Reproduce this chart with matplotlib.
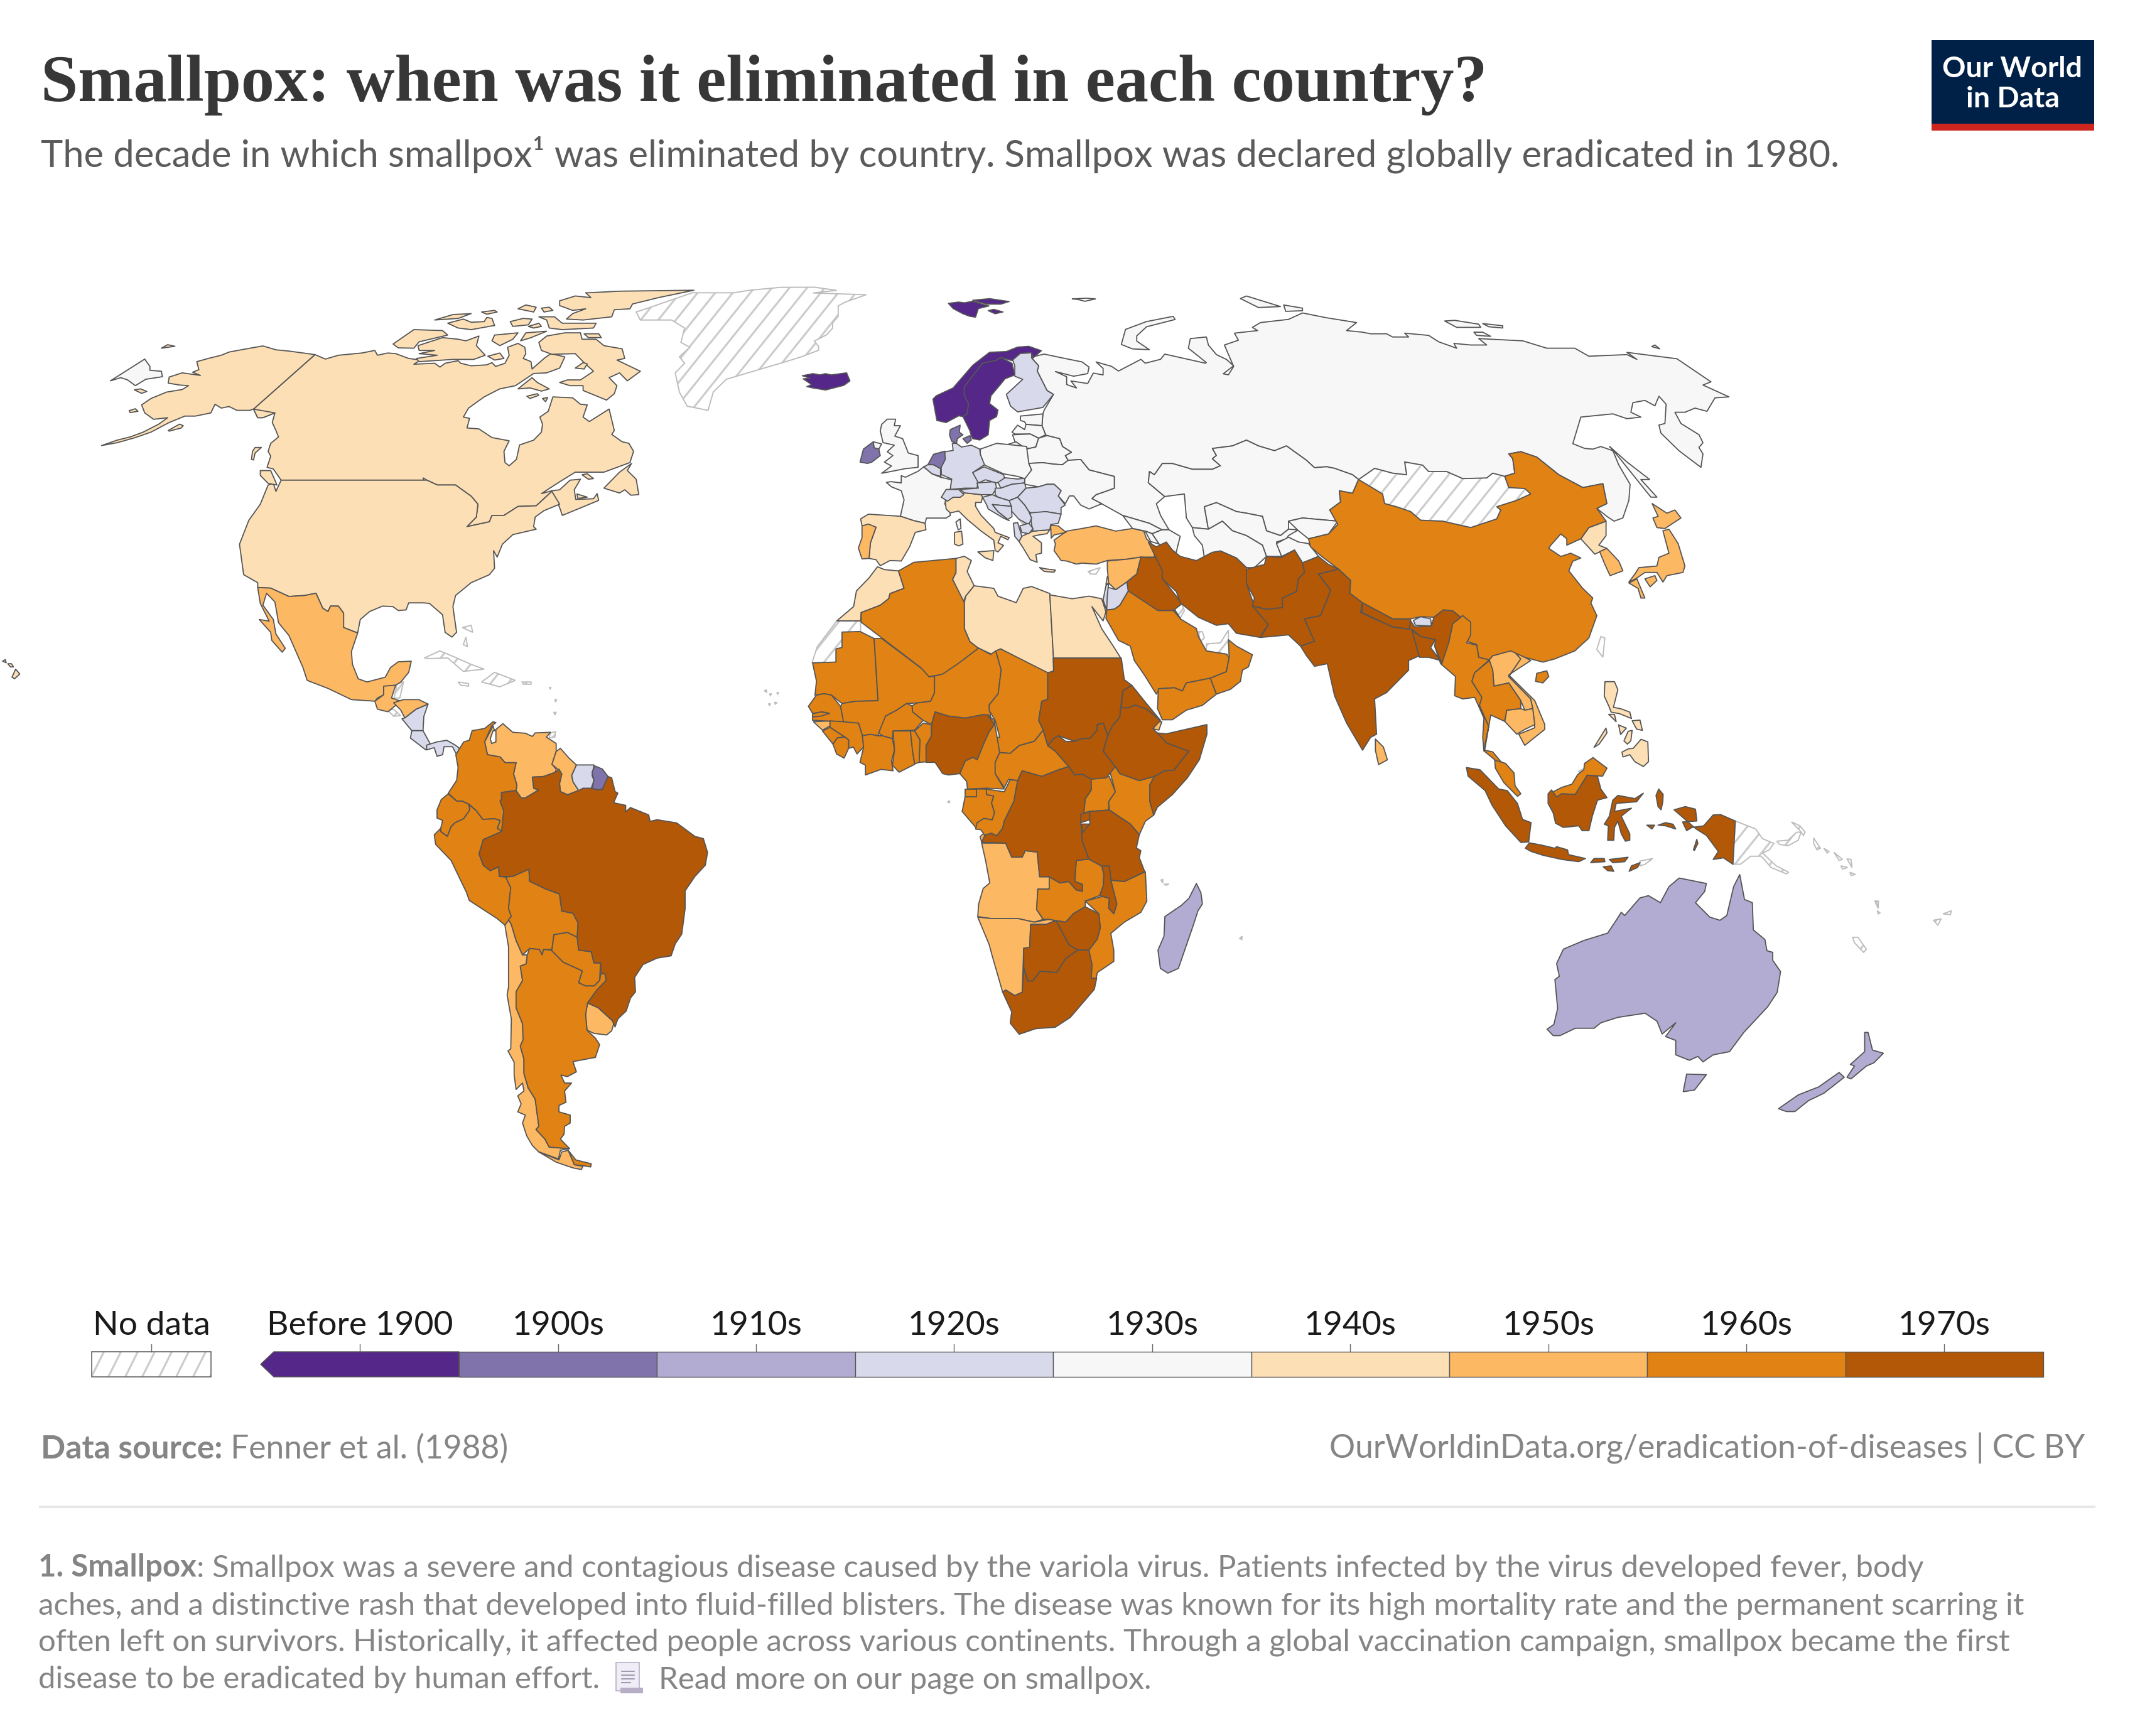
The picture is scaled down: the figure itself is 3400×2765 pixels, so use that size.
import numpy as np
import matplotlib
matplotlib.use('Agg')
import matplotlib.pyplot as plt
from matplotlib.patches import Polygon, Rectangle
from matplotlib.collections import LineCollection

# outlines are traced from crops, flat x,y lists in the crop's own units
# crop: left, top, x scale, y scale
CROPS = {
    'na': (0, 400, 1568 / 1300, 1568 / 800),
    'sa': (600, 1100, 1568 / 700, 1568 / 800),
    'eu': (1250, 450, 1568 / 700, 1568 / 650),
    'af': (1250, 1000, 1568 / 750, 1568 / 700),
    'as': (1800, 450, 1568 / 1000, 1568 / 800),
    'oc': (2300, 1050, 1568 / 850, 1568 / 800),
}

# --- North America
alaska = ('na', [605,323,555,312,530,308,505,296,480,303,440,315,425,325,400,335,378,345,382,370,370,378,385,388,350,380,325,393,323,412,345,418,362,420,350,432,320,440,290,460,272,480,278,505,295,525,322,520,305,540,275,565,250,580,225,590,195,607,225,598,260,582,290,565,325,535,355,515,375,515,405,505,413,478,425,490,440,485,455,497,480,497,487,493,495,520,505,520,528,505,487,493])
canada = ('na', [605,323,625,337,650,325,695,318,720,310,725,325,745,318,760,320,785,335,808,340,795,353,835,350,845,362,855,350,880,342,885,350,905,358,935,355,945,348,952,360,970,350,978,325,975,300,995,288,1008,300,1010,320,1005,335,1020,345,1022,368,1045,335,1058,320,1085,330,1075,365,1050,380,1025,382,990,420,960,430,930,455,900,490,890,518,902,522,897,552,920,555,945,582,978,592,968,625,970,660,978,670,992,650,998,605,1025,590,1040,565,1042,540,1037,518,1053,500,1062,455,1100,458,1115,478,1128,480,1120,518,1132,532,1170,493,1180,560,1175,572,1195,595,1208,600,1217,625,1210,660,1185,675,1160,690,1105,690,1075,720,1040,757,1060,748,1075,745,1095,715,1115,712,1103,745,1106,775,1140,773,1147,757,1150,778,1110,805,1080,825,1076,805,1072,790,1060,750,1030,795,995,797,968,825,945,825,940,845,897,860,915,830,918,790,905,765,875,730,840,730,820,715,813,708,813,715,540,715,525,680,513,675,520,640,515,625,520,600,535,580,530,560,523,535,528,505,505,520,495,520,487,493])
usa = ('na', [540,715,813,715,820,715,840,730,875,730,905,765,918,790,915,830,897,860,940,845,945,825,968,825,995,797,1030,795,1060,750,1075,790,1045,810,1028,830,1025,860,1030,868,985,885,965,915,955,955,948,935,950,990,940,1010,905,1035,875,1075,870,1110,877,1190,868,1205,855,1190,850,1135,825,1100,815,1098,785,1098,780,1120,765,1122,755,1110,735,1108,710,1125,692,1150,687,1192,660,1175,660,1130,650,1108,635,1108,630,1125,620,1115,607,1068,585,1075,555,1078,520,1052,495,1050,495,1035,468,1010,460,915,478,840,500,790,515,730,525,725,530,750])
mexico = ('na', [495,1050,520,1052,555,1078,585,1075,607,1068,620,1115,630,1125,635,1108,650,1108,660,1130,660,1175,687,1192,675,1250,677,1290,688,1335,705,1345,740,1330,750,1300,765,1282,790,1280,785,1315,770,1345,760,1355,737,1360,737,1385,725,1395,720,1405,675,1400,630,1365,590,1340,582,1300,555,1200,535,1160,528,1095,512,1068,505,1105,525,1150,530,1195,548,1240,542,1252,522,1215,520,1190,498,1150,517,1155,500,1100])
guatemala = ('na', [737,1358,760,1355,752,1395,770,1405,745,1438,725,1430,720,1405,737,1385])
canada_islands = [
    ('na', [1130,130,1190,125,1333,122,1265,145,1215,165,1210,180,1180,183,1175,205,1120,215,1088,212,1100,195,1125,180,1100,185,1075,170,1075,155,1105,140,1135,145,1125,130]),
    ('na', [1035,205,1065,205,1080,225,1145,225,1140,240,1080,245,1055,240,1050,215]),
    ('na', [1035,285,1050,265,1085,255,1115,255,1118,275,1145,275,1160,295,1195,305,1200,335,1185,340,1230,375,1205,405,1190,380,1170,395,1185,420,1180,445,1165,465,1120,435,1120,420,1095,420,1075,410,1090,402,1115,402,1140,375,1120,345,1105,320,1060,322,1040,310]),
    ('na', [803,295,850,270,880,275,895,280,920,265,915,295,932,325,910,338,870,338,805,345,800,335,840,325,805,320,835,310,805,310]),
    ('na', [755,290,795,245,850,248,860,262,805,283,795,303,765,302]),
    ('na', [995,430,1022,395,1032,410,1055,430,1040,437,1018,427]),
    ('na', [835,215,870,198,905,195,880,210]),
    ('na', [860,225,890,212,905,222,930,220,935,207,945,210,950,232,905,245,880,240]),
    ('na', [925,190,950,185,955,190,935,197]),
    ('na', [995,180,1010,168,1030,175,1025,190]),
    ('na', [1040,178,1055,175,1062,185,1045,190]),
    ('na', [980,220,1005,210,1022,212,1015,230,985,235]),
    ('na', [1015,235,1035,225,1040,235,1025,240]),
    ('na', [950,262,995,255,985,275,960,295,945,280]),
    ('na', [1000,280,1010,255,1050,250,1020,270]),
    ('na', [1122,258,1150,258,1155,270,1130,270]),
    ('na', [937,328,960,318,968,335,950,340]),
    ('na', [1105,365,1120,348,1128,352,1122,368]),
    ('na', [1012,453,1032,445,1035,450,1018,460]),
    ('na', [1042,460,1052,457,1048,470]),
    ('na', [1160,740,1190,690,1213,663,1205,685,1222,712,1227,760,1212,762,1200,745,1190,755]),
    ('na', [1118,698,1128,695,1140,710,1130,712]),
    ('na', [483,650,485,625,490,613,502,613,490,630,487,652]),
    ('na', [500,685,520,685,532,730,515,725,500,700]),
    ('na', [1108,758,1128,768,1110,772]),
]
us_islands = [
    ('na', [323,560,345,540,352,545,348,552,325,562]),
    ('na', [310,303,322,292,336,297]),
    ('na', [248,498,260,492,265,500,250,504]),
    ('na', [258,433,270,430,282,438,272,444]),
    ('na', [23,1330,30,1305,38,1320,28,1335]),
    ('na', [5,1280,10,1275,12,1285]),
    ('na', [15,1288,22,1288,26,1298,20,1298]),
]
chukotka = ('na', [212,405,278,337,288,360,288,372,310,375,312,392,280,400,260,420,245,402,232,395])

# --- Central and South America
honduras = ('sa', [60,38,95,28,150,28,183,42,140,58,100,85,85,60])
nicaragua = ('sa', [183,42,168,80,165,125,125,125,90,88,100,85,140,58])
costa_rica = ('sa', [125,125,165,125,190,165,175,185,120,148])
panama = ('sa', [178,170,215,160,250,155,280,170,295,180,285,200,270,175,240,175,235,200,215,205,205,178,178,185])
colombia = ('sa', [425,100,410,110,385,160,395,200,440,207,458,225,497,225,488,260,500,295,497,312,445,318,445,340,440,345,453,375,447,440,430,430,440,405,420,400,378,402,355,375,330,355,305,345,285,345,255,320,285,280,290,240,282,200,310,160,330,155,340,125,385,118,415,97])
venezuela = ('sa', [415,110,420,125,450,103,485,130,530,133,555,143,565,132,620,130,605,145,640,165,640,190,625,230,640,245,637,255,595,268,555,270,560,305,578,310,530,335,515,335,497,312,500,295,488,260,497,225,458,225,440,207,395,200,385,160])
maracaibo = ('sa', [415,125,425,125,425,160,410,165,405,150])
guyana = ('sa', [655,180,685,210,712,232,695,265,700,285,720,312,680,325,655,315,652,290,660,260,645,245,625,230,640,190])
suriname = ('sa', [712,232,775,232,768,265,775,280,765,305,735,305,722,315,700,285,695,265])
french_guiana = ('sa', [778,235,805,245,825,268,805,308,790,310,768,305,775,280,768,255])
brazil = ('sa', [445,318,497,312,515,335,530,335,578,310,560,305,555,270,595,268,637,255,650,245,660,260,652,290,655,315,680,325,720,312,735,305,765,305,790,310,805,308,825,268,838,272,850,315,860,320,845,350,888,358,888,378,905,365,970,388,975,408,1000,403,1070,413,1135,455,1165,462,1180,505,1172,545,1135,580,1100,625,1100,680,1088,760,1065,790,1050,828,1000,835,950,855,920,895,923,940,905,960,890,1000,860,1025,850,1050,840,1030,790,990,752,975,785,935,818,905,815,885,800,882,798,850,775,850,765,815,720,810,715,770,718,725,700,695,660,688,652,635,600,618,545,595,543,557,485,580,437,580,435,550,405,562,380,545,365,510,380,465,445,440,453,375,440,345,445,340])
peru = ('sa', [205,450,228,430,228,440,252,455,265,425,280,412,310,400,332,372,328,355,355,375,378,402,420,400,440,405,430,430,447,440,380,465,365,510,380,545,405,562,435,550,437,580,460,582,478,615,470,680,480,705,457,732,430,712,330,655,320,630,265,530,210,480])
ecuador = ('sa', [255,322,285,345,305,345,328,355,332,372,310,400,280,412,265,425,252,455,228,440,228,430,235,405,215,398,215,372,230,340])
bolivia = ('sa', [460,582,485,580,543,557,545,595,600,618,652,635,660,688,700,695,718,725,715,770,680,755,632,762,625,808,595,808,590,825,580,808,545,805,520,825,497,780,480,730,470,715,480,705,470,680,478,615])
paraguay = ('sa', [632,762,680,755,715,770,720,810,765,815,775,850,798,850,795,905,775,922,745,922,720,912,733,875,665,848,622,810,625,808])
chile = ('sa', [457,732,470,715,480,730,497,780,520,825,537,825,533,853,512,860,520,905,497,940,497,990,520,1040,522,1090,512,1110,525,1150,525,1195,540,1240,565,1275,572,1320,578,1360,568,1370,600,1400,615,1425,685,1430,655,1435,648,1462,578,1440,555,1420,535,1390,520,1350,530,1325,503,1315,515,1290,503,1265,525,1250,520,1225,497,1245,490,1200,490,1160,468,1125,478,1118,480,1025,465,950,470,925,470,800])
chile_fuego = ('sa', [578,1440,650,1465,660,1440,683,1435,705,1480,735,1485,730,1495,700,1490,640,1472])
argentina_fuego = ('sa', [683,1435,710,1465,765,1477,763,1487,735,1483,705,1480])
argentina = ('sa', [537,825,545,805,580,808,590,825,595,808,622,810,665,848,733,875,720,912,745,922,775,922,795,905,800,882,815,885,818,905,785,935,752,975,745,1010,750,1060,780,1085,795,1105,780,1145,700,1158,712,1190,680,1205,657,1200,670,1225,695,1225,670,1250,675,1285,650,1295,650,1315,690,1325,690,1350,670,1360,668,1385,655,1400,688,1430,615,1425,600,1400,568,1370,578,1360,572,1320,565,1275,540,1240,525,1195,525,1150,512,1110,522,1090,520,1040,497,990,497,940,520,905,512,860,533,853])
uruguay = ('sa', [752,975,790,990,840,1030,847,1035,838,1062,820,1075,775,1070,750,1060,745,1010])

# --- Europe
svalbard = [('eu', [583,80,620,75,640,78,670,72,710,85,728,90,690,100,680,133,660,130,635,120,600,100]),
            ('eu', [670,68,730,62,800,73,770,83,720,83]),
            ('eu', [725,108,745,103,778,113,750,120])]
iceland = ('eu', [62,358,100,350,125,355,145,350,165,355,220,347,232,378,210,395,145,413,100,405,78,400,95,392,65,370,90,368])
norway = ('eu', [528,448,540,435,600,405,670,318,730,268,790,265,830,248,870,245,915,262,885,290,880,270,840,272,810,300,770,288,752,300,705,310,680,345,640,400,640,435,655,465,650,505,635,515,620,512,575,538,542,530])
sweden = ('eu', [640,400,680,345,705,310,752,300,770,288,810,310,820,355,785,370,770,390,735,435,730,465,760,490,755,515,730,530,725,585,695,605,670,600,665,590,660,570,635,515,650,505,655,465,640,435])
denmark = [('eu', [590,565,625,548,622,575,635,585,615,600,612,618,595,610,587,585]),
           ('eu', [635,600,660,588,665,605,650,618])]
finland = ('eu', [810,290,840,272,880,270,880,290,905,320,900,340,935,415,958,430,920,480,830,497,805,475,790,430,848,372,820,360,820,320])
estonia = ('eu', [840,513,920,505,917,550,860,545,855,535,840,530])
latvia = ('eu', [810,575,830,548,855,565,860,545,917,550,930,585,905,598,875,582,820,582])
lithuania = ('eu', [812,585,875,582,905,598,895,632,870,638,845,628,820,610])
kaliningrad = ('eu', [795,622,825,612,845,628,800,628])
belarus = ('eu', [905,598,935,588,980,600,990,630,1022,652,1000,665,1010,683,990,700,960,698,920,692,870,695,860,640,895,632])
poland = ('eu', [697,640,755,618,820,625,862,630,870,695,880,720,860,755,830,745,780,735,730,710,710,700,697,660])
ukraine = ('eu', [870,695,920,692,960,698,990,700,1010,683,1055,680,1085,720,1175,745,1175,790,1150,800,1110,815,1095,830,1130,850,1085,870,1055,855,1030,820,1015,820,1000,850,975,820,985,800,960,775,935,775,905,785,855,775,855,755,880,720])
germany = ('eu', [597,618,612,618,630,632,665,625,695,640,697,660,712,700,670,730,690,765,685,790,640,790,590,795,595,755,558,738,557,690,572,650,600,645])
netherlands = ('eu', [510,700,530,660,570,648,572,680,555,715,530,700])
belgium = ('eu', [495,708,510,700,530,700,555,715,555,745,525,735])
france = ('eu', [362,768,378,765,415,770,415,742,430,748,475,725,495,708,525,735,555,748,595,758,590,795,580,825,570,850,588,880,590,895,575,905,505,905,500,925,460,915,412,898,425,835,415,800,380,785])
corsica = ('eu', [610,920,625,908,628,945,618,950])
switzerland = ('eu', [558,825,575,795,620,795,638,815,625,825,600,825,580,840])
austria = ('eu', [625,795,690,790,685,770,750,765,755,790,740,815,700,815,640,808])
czechia = ('eu', [670,730,710,708,780,738,785,760,755,770,715,758,690,770])
slovakia = ('eu', [760,768,785,750,830,755,855,752,855,770,810,775,770,790])
hungary = ('eu', [750,790,770,790,810,775,855,770,860,790,830,825,800,838,760,825,750,815])
romania = ('eu', [830,825,860,790,905,785,935,775,960,775,985,800,975,820,1000,855,985,865,985,890,930,880,885,890,870,880,855,855])
bulgaria = ('eu', [875,885,930,880,985,890,975,925,948,930,945,950,885,955,880,930])
serbia = ('eu', [800,838,830,825,855,855,870,880,880,905,870,930,835,910,810,880])
croatia = ('eu', [705,825,740,815,760,825,800,838,808,860,740,853,760,880,800,915,780,905,725,870,720,855])
bosnia = ('eu', [740,853,808,860,810,900,795,910,760,880])
albania = ('eu', [815,925,830,922,845,975,835,995,820,975])
macedonia = ('eu', [838,935,870,925,885,945,870,965,845,960])
greece = ('eu', [845,975,885,955,945,950,935,965,905,970,885,975,915,1000,915,1040,895,1045,900,1075,875,1065,850,1020,835,995])
crete = ('eu', [908,1095,930,1100,965,1105,960,1113,925,1110])
turkey_thrace = ('eu', [948,933,975,935,1003,960,960,970,950,982])
turkey = ('eu', [960,990,1005,955,1060,945,1110,935,1180,955,1240,945,1280,955,1290,985,1305,1000,1320,1055,1270,1055,1220,1063,1150,1068,1110,1082,1060,1078,1040,1082,1005,1070,985,1068,960,1030,965,1005])
italy = ('eu', [572,840,600,825,625,825,640,808,700,815,705,825,700,845,680,845,680,860,700,895,745,945,750,960,800,980,795,988,770,975,760,1000,780,1010,760,1035,750,1030,745,990,700,955,650,910,620,878,590,885,575,870])
sicily = ('eu', [688,1035,745,1030,742,1068,715,1058])
sardinia = ('eu', [605,960,630,955,635,1005,620,1012,605,1005])
spain = ('eu', [270,908,298,890,412,898,460,915,500,925,503,950,465,960,445,1015,415,1070,375,1068,340,1088,325,1065,300,1060,305,1000,325,940,298,938,275,935])
portugal = ('eu', [275,935,298,928,325,940,305,1000,300,1060,275,1062,262,1020,275,980])
britain = ('eu', [345,545,365,525,395,525,390,550,412,550,392,590,420,600,440,655,475,665,475,710,430,715,345,733,380,705,355,690,385,665,365,650,390,625,350,615,340,570])
n_ireland = ('eu', [315,612,345,620,335,640,318,635])
ireland = ('eu', [268,690,280,640,315,612,318,635,335,640,340,665,310,690,295,695])
georgia = ('eu', [1205,895,1300,925,1345,950,1310,965,1285,955,1240,945])
armenia = ('eu', [1285,955,1310,965,1335,1005,1305,995])
azerbaijan = ('eu', [1310,965,1345,950,1370,950,1410,975,1395,1040,1335,1005])

# --- North Africa and Middle East
morocco = ('eu', [330,1092,355,1103,405,1108,425,1175,375,1195,370,1215,340,1240,272,1268,270,1300,185,1300,245,1245,255,1185,300,1135])
western_sahara = ('eu', [185,1300,270,1300,270,1345,205,1345,205,1405,182,1410,182,1460,97,1460,115,1400,150,1350])
algeria = ('eu', [405,1108,460,1075,610,1060,610,1115,598,1140,640,1230,640,1330,660,1380,690,1405,620,1465,565,1505,510,1515,485,1480,345,1365,272,1305,272,1268,340,1240,370,1215,375,1195,425,1175])
tunisia = ('eu', [610,1060,640,1052,665,1068,650,1110,675,1165,645,1205,635,1230,598,1140,610,1115])
libya = ('eu', [675,1165,745,1175,760,1205,825,1230,850,1175,880,1168,945,1195,958,1440,958,1492,935,1502,770,1408,738,1428,690,1405,660,1380,640,1330,640,1230,645,1205])
egypt = ('eu', [945,1200,1025,1215,1085,1205,1130,1215,1145,1265,1135,1300,1095,1245,1130,1330,1170,1395,1198,1443,958,1443])
jordan = ('eu', [1150,1170,1180,1180,1220,1150,1225,1185,1195,1240,1175,1255,1148,1258,1135,1220])
israel = ('eu', [1135,1220,1145,1165,1155,1155,1150,1200,1148,1258])
syria = ('eu', [1150,1070,1220,1063,1270,1055,1255,1120,1220,1150,1180,1180,1155,1155,1150,1100])
lebanon = ('eu', [1150,1130,1165,1122,1155,1155,1145,1160])
cyprus = ('eu', [1082,1110,1125,1095,1110,1120,1090,1120])
iraq = ('eu', [1270,1055,1300,1058,1320,1055,1350,1100,1345,1135,1400,1210,1415,1235,1385,1260,1330,1260,1225,1185,1220,1150,1255,1120])
saudi = [('eu', [1148,1258,1175,1255,1195,1240,1225,1185,1250,1195,1330,1260,1385,1260,1410,1290]),
         ('as', [110,1020,125,1050,165,1080,170,1105,190,1150,240,1160,247,1170,240,1215,200,1235,140,1250,130,1275,110,1265,75,1268,65,1285,35,1225,10,1180,0,1135]),
         ('eu', [1190,1375,1145,1290])]
yemen = ('as', [70,1268,110,1265,130,1275,140,1250,200,1235,215,1285,180,1320,140,1335,105,1365,80,1365,68,1330])
oman = ('as', [200,1235,240,1215,247,1170,245,1115,265,1135,305,1162,295,1200,280,1210,275,1245,250,1270,215,1285])
uae = ('as', [190,1150,190,1128,225,1125,245,1085,245,1115,247,1160,240,1160])
qatar = ('as', [170,1090,180,1090,185,1110,175,1120])

# --- Sub-Saharan Africa
mauritania = ('af', [92,125,170,122,170,75,190,70,190,15,250,13,297,38,310,260,235,262,190,270,155,240,130,235,100,240,105,190])
mali = ('af', [297,38,322,38,455,145,480,175,498,172,498,232,485,262,440,268,405,270,370,295,335,315,330,345,310,385,285,380,258,385,245,340,195,340,185,280,190,270,235,262,310,260])
niger = ('af', [498,172,525,165,580,125,645,72,685,95,702,82,720,150,710,235,680,275,685,320,660,310,600,322,545,315,500,300,488,345,460,330,425,300,423,278,440,268,485,262,498,232])
chad = ('af', [702,82,718,75,875,160,875,255,855,262,845,330,860,365,830,405,780,420,750,448,715,445,688,395,715,390,700,330,680,295,680,275,710,235,720,150])
sudan = ('af', [875,160,895,155,893,108,1120,108,1130,185,1155,205,1125,225,1118,285,1115,320,1090,350,1075,385,1060,340,1040,345,1040,365,1015,395,990,395,965,405,910,385,895,395,875,420,860,365,845,330,855,262,875,255])
ethiopia = ('af', [1118,285,1145,285,1165,275,1205,290,1250,330,1225,360,1240,375,1270,410,1345,440,1295,508,1265,510,1230,530,1180,545,1115,520,1100,495,1060,440,1075,385,1090,350,1115,320])
eritrea = ('af', [1155,205,1200,265,1250,330,1205,290,1165,275,1145,285,1120,285,1125,225])
djibouti = ('af', [1230,335,1255,335,1245,365,1225,360])
somalia = ('af', [1240,375,1270,378,1405,345,1405,380,1380,470,1340,535,1290,595,1240,640,1228,668,1215,620,1215,560,1230,530,1265,510,1295,508,1345,440,1270,410])
south_sudan = ('af', [895,395,910,385,935,405,965,405,990,395,1015,395,1040,365,1040,345,1060,340,1075,385,1060,440,1100,495,1070,535,1020,540,990,522,965,525,945,495,900,440,875,420])
car = ('af', [860,365,875,420,900,440,945,495,915,505,855,530,790,510,775,545,745,540,730,570,700,520,700,480,715,445,750,448,780,420,830,405])
nigeria = ('af', [500,300,545,315,600,322,660,310,675,310,697,345,680,370,665,405,640,470,625,462,600,475,582,520,545,525,525,520,500,480,470,480,470,420,488,385,488,345])
cameroon = ('af', [675,310,697,330,715,445,700,480,700,520,730,575,670,572,608,575,605,548,582,520,600,475,625,462,640,470,665,405,680,370,697,345])
benin = ('af', [488,345,488,385,470,420,470,478,447,480,450,400,432,368,460,340])
togo = ('af', [432,368,450,400,447,480,432,485,425,440,418,368])
ghana = ('af', [360,368,418,368,425,440,432,487,380,515,358,490,365,435])
burkina = ('af', [312,375,335,315,370,295,405,270,423,278,425,300,460,330,432,365,360,368,358,395,325,385])
ivory_coast = ('af', [258,385,285,380,310,385,325,385,358,395,365,435,355,475,360,510,320,505,268,525,268,490,250,480,262,425])
guinea = ('af', [150,332,195,335,245,340,258,385,262,425,240,450,228,425,212,430,212,400,200,390,150,355])
sierra_leone = ('af', [125,368,150,355,200,390,175,392,160,415])
liberia = ('af', [160,415,175,392,200,390,212,400,212,430,197,465,172,450])
senegal = ('af', [78,280,105,240,130,235,155,240,185,280,195,335,92,330,92,315,148,305,125,300,92,305])
gambia = ('af', [92,307,120,300,148,305,120,315,92,318])
guinea_bissau = ('af', [95,335,150,332,150,350,125,365])
eq_guinea = ('af', [600,575,637,575,637,602,600,602])
gabon = ('af', [600,602,637,602,637,575,670,575,672,595,695,600,688,625,698,660,690,685,662,680,660,688,640,695,640,718,590,655])
congo = ('af', [670,575,730,585,750,542,775,545,762,620,730,690,725,715,705,742,688,733,665,740,652,720,635,718,640,695,662,680,690,685,698,660,688,625,695,600,672,595])
drc = ('af', [790,510,855,530,915,505,945,495,965,525,990,522,1020,540,1020,578,1000,610,995,660,985,690,990,760,1012,825,970,830,965,905,990,915,990,940,970,935,945,905,915,910,880,888,848,888,840,800,800,795,790,818,755,818,735,768,655,765,665,740,688,733,705,742,725,715,730,690,762,620,775,545])
cabinda = ('af', [650,745,662,733,668,745,655,765])
angola = ('af', [655,768,735,768,755,818,790,818,800,795,840,800,848,888,880,888,880,932,842,932,838,1005,860,1040,830,1050,775,1037,685,1037,642,1030,645,985,660,930,682,910,668,830])
namibia = ('af', [642,1032,685,1037,775,1037,830,1050,880,1040,900,1045,870,1058,818,1058,815,1140,795,1143,790,1300,765,1312,735,1292,725,1300,690,1170,680,1130])
zambia = ('af', [880,888,915,910,945,905,970,935,990,940,990,915,965,905,970,830,1012,825,1055,850,1062,880,1060,920,1048,955,1000,975,1000,995,960,1020,935,1050,905,1045,880,1040,860,1040,838,1005,842,932,880,932])
zimbabwe = ('af', [905,1045,935,1050,960,1020,1000,995,1045,1020,1050,1070,1040,1110,1012,1150,975,1150,945,1130,905,1050])
botswana = ('af', [818,1058,870,1058,900,1045,905,1050,945,1130,975,1150,935,1180,905,1230,850,1225,825,1260,808,1260,795,1210,795,1143,815,1140])
south_africa = ('af', [795,1215,808,1260,825,1260,850,1225,905,1230,935,1180,975,1150,1012,1150,1022,1200,1020,1250,1038,1250,1030,1290,990,1340,950,1390,900,1425,835,1430,780,1450,750,1410,755,1370,725,1300,735,1292,765,1312,790,1300])
lesotho = ('af', [923,1335,950,1305,967,1320,945,1350])
eswatini = ('af', [997,1255,1010,1235,1022,1250,1020,1270,1005,1270])
mozambique = ('af', [1000,975,1058,958,1080,965,1078,1000,1095,1020,1105,985,1085,900,1130,905,1200,870,1205,975,1185,1015,1130,1050,1085,1090,1095,1150,1095,1190,1040,1230,1035,1258,1020,1250,1022,1200,1012,1150,1040,1110,1050,1070,1045,1020])
malawi = ('af', [1055,850,1080,850,1085,900,1105,985,1095,1020,1078,1000,1080,965,1048,955,1060,920,1062,880])
tanzania = ('af', [1015,655,1080,650,1150,700,1180,738,1170,785,1185,795,1180,820,1198,870,1130,905,1085,900,1080,850,1055,850,1012,825,990,760,988,735,1015,700])
kenya = ('af', [1080,650,1078,620,1100,585,1080,505,1100,495,1115,520,1180,545,1230,530,1215,560,1215,620,1228,668,1200,690,1180,738,1150,700])
uganda = ('af', [1018,540,1080,530,1100,585,1078,620,1078,650,1015,655,995,660,1000,610,1020,578])
rwanda = ('af', [985,665,1015,655,1015,685,985,695])
burundi = ('af', [988,700,1015,700,990,735])
madagascar = ('af', [1370,912,1385,945,1390,985,1375,1010,1360,1060,1310,1215,1275,1232,1250,1215,1242,1150,1262,1100,1265,1030,1320,990,1345,965])

# --- Russia and Central Asia
russia = [('eu', [885,285,925,275,1000,292,1060,305,1085,325,1080,350,1030,360,965,342,1005,362,1005,392,1040,405,1020,378,1080,388,1100,348,1135,355,1135,330,1110,305,1165,322,1190,340,1270,295,1285,310,1340,295,1355,275,1500,310]),
          ('as', [190,250,145,205,150,175,190,170,195,195,215,225,240,240,258,260,232,285,245,288,258,262,235,195,270,180,260,158,318,150,305,140,325,125,395,115,430,95,450,100,490,110,565,125,540,150,580,155,600,160,640,160,655,170,695,170,685,158,745,165,770,185,815,205,808,190,850,195,890,195,870,175,980,182,1040,205,1110,205,1145,230,1240,225,1265,240,1240,218,1365,238,1450,310,1430,320,1495,357,1460,360,1440,402,1410,392,1385,405,1360,405,1375,440,1420,475,1430,500,1420,515,1430,535,1425,577,1370,525,1325,470,1320,445,1335,440,1338,380,1320,355,1310,385,1285,368,1255,375,1250,405,1275,420,1240,425,1205,410,1125,420,1105,503,1135,518,1155,520,1175,512,1205,525,1220,570,1248,630,1245,680,1230,735,1208,745,1190,730,1165,705,1190,690,1180,628,1130,640,1070,600,1015,545,975,528,945,535,955,550,960,595,935,605,905,595,890,610,830,612,790,590,745,590,730,570,685,560,690,600,655,595,610,580,570,615,555,600,510,580,490,575,460,578,440,555,390,510,360,525,320,510,290,492,255,510,205,518,215,540,205,550,225,572,205,583,155,583,105,565,80,565,60,600,48,590,45,625,86,668]),
          ('eu', [1325,850,1340,895,1370,950,1345,950,1300,925,1205,895,1135,853,1095,830,1110,815,1150,800,1175,790,1175,745,1085,720,1055,680,1010,683,1000,665,1022,652,990,630,980,600,935,588,930,585,917,550,920,505,925,490,958,430,935,415,900,340,905,320,880,290])]
novaya_zemlya = ('eu', [1200,238,1215,180,1290,150,1385,130,1392,142,1290,170,1255,205,1255,225,1300,258,1240,255])
russia_islands = [('as', [275,50,290,42,375,75,320,78]), ('as', [383,70,430,80,430,88,388,90]),
                  ('as', [785,120,810,118,870,130,875,140,815,140]), ('as', [880,128,930,135,930,142,895,138]),
                  ('as', [858,155,880,155,900,168,865,165]), ('as', [1302,200,1310,195,1322,207]),
                  ('as', [1197,512,1240,560,1297,615,1275,615,1315,670,1300,670,1210,530]),
                  ('eu', [1025,63,1075,60,1108,63,1070,72,1045,65])]
kazakhstan = ('as', [48,590,60,600,80,565,105,565,155,583,205,583,225,572,205,550,215,540,205,518,255,510,290,492,320,510,360,525,390,510,440,555,460,578,490,575,510,580,555,600,570,615,555,658,522,650,525,685,498,710,518,745,430,735,395,745,395,770,375,790,340,775,330,730,290,720,265,715,215,687,185,700,195,770,155,765,140,735,135,660,86,668,45,625])
uzbekistan = ('as', [185,700,215,687,265,715,290,720,330,730,340,775,375,790,395,770,420,772,395,790,390,800,365,810,378,855,340,855,330,820,290,790,255,775,230,745,195,770])
turkmenistan = ('as', [155,765,195,770,230,745,255,775,290,790,330,820,340,855,310,890,290,890,265,860,225,838,185,860,180,820,160,790])
kyrgyzstan = ('as', [395,745,430,735,518,745,495,785,445,800,420,775])
tajikistan = ('as', [365,815,395,795,420,810,445,815,470,855,430,875,410,835,378,855])

# --- South and East Asia
iran = ('as', [45,810,65,825,90,810,105,835,125,855,165,868,205,842,225,838,265,860,290,890,290,940,310,1010,345,1068,335,1085,325,1108,265,1095,245,1065,215,1070,170,1045,125,1000,115,965,80,925,80,900])
afghanistan = ('as', [290,895,335,880,340,855,378,858,410,835,430,875,435,905,420,925,415,965,380,985,380,1015,340,1020,305,1010,310,985,290,940])
pakistan = ('as', [430,875,470,855,495,880,520,895,470,910,500,960,490,995,475,1040,435,1050,460,1120,425,1135,395,1100,325,1108,345,1068,305,1010,340,1020,380,1015,380,985,415,965,420,925,435,905])
india = ('as', [470,910,520,895,550,930,548,970,580,1000,575,1030,655,1075,697,1082,697,1050,710,1075,752,1072,758,1045,782,1022,805,1025,825,1045,805,1065,795,1125,778,1190,760,1135,762,1115,725,1105,703,1082,722,1165,695,1180,695,1210,640,1280,610,1300,615,1410,600,1420,580,1460,540,1375,510,1290,492,1190,460,1198,440,1165,425,1135,460,1120,435,1050,475,1040,490,995,500,960])
bangladesh = ('as', [703,1085,725,1105,762,1115,750,1140,775,1180,745,1170,722,1170])
nepal = ('as', [580,1000,655,1050,700,1050,697,1082,655,1075,578,1030])
bhutan = ('as', [707,1055,725,1043,750,1050,752,1072,712,1070])
sri_lanka = ('as', [612,1425,632,1450,642,1490,620,1505,612,1460])
china = ('as', [945,535,975,528,1015,545,1070,600,1130,640,1180,628,1190,690,1165,705,1188,745,1145,765,1125,800,1090,820,1090,800,1075,785,1050,820,1045,830,1075,855,1100,845,1125,860,1105,870,1095,900,1130,955,1155,985,1150,1000,1165,1040,1145,1110,1110,1150,1080,1165,1060,1175,1030,1185,985,1170,950,1150,905,1165,895,1180,870,1170,865,1130,840,1120,850,1080,830,1040,825,1045,805,1025,782,1022,758,1045,725,1043,700,1050,655,1050,580,1000,548,970,550,930,520,895,478,855,450,825,445,800,495,785,518,755,498,710,525,685,522,650,555,658,570,615,630,660,635,690,665,700,700,715,725,742,780,745,850,765,915,738,925,710,915,700,965,680,1000,660,985,643,945,640,935,605,960,595,955,550])
hainan = ('as', [1015,1220,1040,1212,1045,1230,1030,1250,1012,1245])
mongolia = ('as', [570,615,610,580,655,595,690,600,685,560,730,570,745,590,790,590,830,612,890,610,905,595,935,605,945,640,985,643,1000,660,965,680,915,700,925,710,915,738,850,765,780,745,725,742,700,715,665,700,635,690,630,660])
north_korea = ('as', [1188,745,1188,790,1170,820,1190,830,1160,848,1125,800,1145,765])
south_korea = ('as', [1172,840,1190,830,1220,870,1230,900,1198,915,1185,880])
japan = [('as', [1330,775,1345,770,1368,815,1385,885,1380,905,1340,915,1330,935,1315,905,1285,905,1262,925,1245,935,1260,910,1270,890,1315,885,1320,858,1345,845]),
         ('as', [1303,690,1340,720,1360,710,1375,735,1335,768,1315,765,1305,735,1318,730]),
         ('as', [1245,938,1265,925,1285,985,1275,985,1268,955]),
         ('as', [1285,925,1310,915,1315,930,1298,950])]
taiwan = ('as', [1175,1105,1185,1110,1180,1170,1165,1145])
myanmar = ('as', [830,1040,850,1060,850,1100,840,1125,865,1132,870,1170,897,1178,860,1218,853,1245,878,1295,872,1320,895,1385,883,1462,880,1420,883,1360,860,1295,830,1300,810,1290,812,1230,775,1190,760,1135,795,1125,805,1065,825,1045])
thailand = ('as', [897,1180,905,1210,908,1260,945,1250,975,1305,975,1330,940,1335,935,1370,900,1350,885,1460,905,1465,925,1495,940,1510,920,1500,883,1462,895,1385,872,1320,878,1295,853,1245,860,1218])
laos = ('as', [895,1180,905,1165,955,1147,975,1175,945,1230,1000,1300,1005,1330,985,1335,975,1305,945,1250,908,1260,905,1210])
vietnam = ('as', [955,1147,985,1170,1000,1180,945,1225,1010,1305,1035,1380,1035,1395,985,1445,970,1410,1010,1390,1005,1330,1000,1300,945,1230,975,1175])
cambodia = ('as', [940,1335,975,1330,985,1335,1005,1330,1010,1380,985,1395,965,1410,935,1370])

# --- Maritime Southeast Asia and Oceania
malaya = ('oc', [148,315,180,325,205,355,208,395,225,420,215,428,175,385,150,340])
malaysia_borneo = ('oc', [318,415,345,400,375,390,392,360,410,345,412,325,437,307,478,340,465,365,420,362,385,422,345,420,330,432])
brunei = ('oc', [395,350,412,340,410,362])
indonesia = [
    ('oc', [65,338,105,345,160,405,185,410,215,450,230,500,255,510,248,570,225,572,180,520,140,455,120,410,70,365]),
    ('oc', [238,590,250,573,285,580,325,590,330,585,362,595,365,610,415,622,395,632,345,625,290,612,255,600]),
    ('oc', [430,635,440,622,470,622,472,632]),
    ('oc', [485,625,540,618,530,632,495,635]),
    ('oc', [543,662,550,645,575,635,568,650]),
    ('oc', [467,648,490,645,498,662,480,660]),
    ('oc', [305,420,315,408,330,430,345,420,385,422,420,362,450,365,460,405,478,432,450,440,435,490,425,535,405,535,395,520,350,525,327,512,320,480,305,450]),
    ('oc', [470,515,485,490,495,440,510,425,560,435,585,418,565,445,505,450,500,475,550,465,520,490,545,545,545,565,532,568,520,545,510,505,500,525,498,565,480,565,482,520]),
    ('oc', [622,425,630,405,643,422,642,445,637,470,628,460]),
    ('oc', [628,518,650,510,672,515,680,530,650,520]),
    ('oc', [595,518,618,518,610,530]),
    ('oc', [732,595,742,562,745,575,735,597]),
    ('oc', [675,470,708,460,738,468,742,505,700,508,712,535,728,525,762,520,790,486,812,485,855,505,848,640,820,620,790,625,805,600,770,550,740,530]),
]
timor_leste = ('oc', [575,630,613,622,590,640,575,645])
png = ('oc', [855,505,915,530,935,560,968,575,955,595,935,605,975,645,1012,665,1005,670,960,650,940,625,930,615,900,615,870,640,848,640])
pacific_no_data = [
    ('oc', [1020,508,1045,520,1060,540,1055,550,1045,535]),
    ('oc', [977,568,1010,565,1035,540,1048,540,1040,565,1010,582,985,578]),
    ('oc', [1085,558,1105,590,1095,595,1085,575]), ('oc', [1115,590,1130,600,1125,605]),
    ('oc', [1145,603,1170,625,1160,628]), ('oc', [1183,623,1195,625,1198,650]),
    ('oc', [1165,645,1185,650,1170,655]), ('oc', [1192,665,1208,672,1195,675]),
    ('oc', [1200,868,1215,868,1240,905,1232,915,1205,885]),
    ('oc', [1265,755,1275,755,1275,778]), ('oc', [1272,785,1280,792,1275,795]),
    ('oc', [1437,815,1460,810,1450,830]), ('oc', [1465,795,1490,785,1487,797]),
]
philippines = [
    ('oc', [472,70,500,70,510,95,497,150,520,155,545,165,550,185,515,170,490,165,485,150,470,115]),
    ('oc', [440,275,475,215,478,230,455,265]),
    ('oc', [522,290,540,280,555,278,578,250,598,258,600,320,585,335,560,320,545,298,525,305]),
    ('oc', [483,172,500,172,505,195]), ('oc', [512,205,535,215,518,235]),
    ('oc', [528,255,540,225,552,222,548,255,538,265]), ('oc', [552,192,575,190,582,222,565,218]),
]
australia = ('oc', [302,1155,322,1140,333,1090,325,1000,338,990,330,950,350,905,410,878,480,855,505,815,520,790,530,800,575,745,600,738,635,760,660,710,690,683,770,700,765,725,738,760,780,805,810,815,830,800,850,710,868,672,882,750,905,760,908,845,942,875,948,910,965,915,965,940,988,975,978,1040,950,1085,915,1125,880,1165,838,1225,790,1235,760,1257,745,1240,720,1252,680,1235,680,1190,650,1178,680,1135,640,1170,625,1130,590,1105,510,1118,460,1135,440,1152,385,1152,340,1175,320,1175])
tasmania = ('oc', [712,1295,770,1297,735,1345,702,1350])
new_zealand = [('oc', [982,1403,1040,1360,1100,1335,1160,1290,1175,1305,1115,1355,1070,1378,1030,1412,1005,1412]),
               ('oc', [1235,1165,1245,1165,1258,1220,1290,1230,1262,1260,1240,1270,1195,1310,1183,1305,1205,1270,1193,1265,1235,1225])]

# --- other places with no data
greenland = [('na', [1222,190,1250,175,1285,155,1330,130,1410,130,1440,122,1500,113]),
             ('eu', [105,18,185,30,100,40,290,47,215,75,190,90,190,130,170,155,170,175,150,200,105,225,120,245,120,260,60,285,0,305]),
             ('na', [1395,400,1370,440,1360,497,1320,484,1305,440,1297,380,1315,350,1305,330,1325,300,1308,285,1315,240,1290,215,1230,215])]
caribbean = [
    ('na', [815,1270,845,1248,870,1265,905,1290,930,1305,890,1312,860,1270,825,1272]),
    ('na', [925,1345,950,1315,990,1340,960,1360]),
    ('na', [880,1345,900,1350,900,1358,885,1355]),
    ('na', [1003,1345,1020,1345,1020,1352,1005,1352]),
    ('na', [888,1175,905,1168,908,1190]), ('na', [895,1205,898,1235,890,1228]),
    ('sa', [615,147,620,132,638,128,635,145]),
]
belize = ('na', [763,1350,775,1345,768,1395,757,1395])
el_salvador = ('sa', [40,62,60,58,85,78,60,80])
kosovo = ('eu', [835,910,860,915,850,930])
kuwait = ('eu', [1385,1260,1415,1235,1425,1260,1410,1290])
luxembourg = ('eu', [550,735,558,738,558,748,550,745])
small_islands = [('na', [1468,1372,1472,1370,1473,1378]), ('na', [1478,1382,1482,1382,1480,1387]), ('na', [1492,1378,1495,1378,1494,1384]),
                 ('na', [1476,1413,1480,1413,1478,1418]), ('na', [1488,1408,1492,1410,1489,1415]), ('na', [1066,1400,1069,1400,1067,1408]),
                 ('na', [1055,1362,1058,1362,1057,1368]), ('na', [1064,1440,1068,1440,1066,1448]), ('af', [542,622,547,616,549,624]),
                 ('af', [1514,1108,1522,1100,1521,1112]), ('af', [1252,900,1258,898,1258,910]), ('af', [1262,915,1278,914,1270,918]),
                 ('oc', [1268,755,1276,758,1272,770])]

# decade a country got rid of smallpox
before_1900 = [iceland, norway, sweden, *svalbard]
in_1900s = [*denmark, netherlands, ireland, french_guiana]
in_1910s = [australia, tasmania, *new_zealand, madagascar]
in_1920s = [finland, germany, belgium, switzerland, austria, czechia, slovakia, hungary, romania, bulgaria, serbia,
            croatia, bosnia, albania, macedonia, nicaragua, costa_rica, panama, suriname, jordan, israel, bhutan]
in_1930s = [russia, novaya_zemlya, *russia_islands, chukotka, estonia, latvia, lithuania, kaliningrad, belarus, poland,
            ukraine, france, corsica, britain, n_ireland, georgia, armenia, azerbaijan, kazakhstan, uzbekistan,
            turkmenistan, kyrgyzstan, tajikistan]
in_1940s = [canada, alaska, usa, *canada_islands, *us_islands, spain, italy, sicily, sardinia, greece, crete, morocco, tunisia,
            libya, egypt, north_korea, *philippines, lebanon]
in_1950s = [mexico, guatemala, honduras, venezuela, guyana, chile, chile_fuego, uruguay, portugal, turkey, turkey_thrace,
            syria, angola, namibia, cabinda, guinea_bissau, djibouti, sri_lanka, south_korea, *japan, laos, vietnam,
            cambodia]
in_1960s = [colombia, ecuador, peru, bolivia, paraguay, argentina, argentina_fuego, algeria, mauritania, mali, niger,
            chad, senegal, gambia, guinea, sierra_leone, liberia, ivory_coast, burkina, ghana, togo, benin, cameroon,
            car, gabon, eq_guinea, congo, uganda, kenya, zambia, mozambique, lesotho, eswatini, saudi, yemen, oman,
            china, hainan, myanmar, thailand, malaya, malaysia_borneo]
in_1970s = [brazil, nigeria, sudan, south_sudan, ethiopia, eritrea, somalia, drc, rwanda, burundi, tanzania, malawi,
            zimbabwe, botswana, south_africa, iraq, iran, afghanistan, pakistan, india, bangladesh, nepal, *indonesia]
no_data = [greenland, mongolia, png, western_sahara, uae, taiwan, timor_leste, cyprus, belize, el_salvador, kuwait,
           brunei, qatar, kosovo, luxembourg, *caribbean, *pacific_no_data, *small_islands]

decade_groups = [in_1930s, in_1940s, in_1920s, in_1910s, in_1900s, before_1900, in_1950s, in_1960s, in_1970s]
group_colors = ['#f7f7f7', '#fddfb6', '#d8daeb', '#b2abd2', '#8073ac', '#542788', '#fdb863', '#e08214', '#b35806']

legend_labels = ['Before 1900', '1900s', '1910s', '1920s', '1930s', '1940s', '1950s', '1960s', '1970s']
legend_colors = ['#542788', '#8073ac', '#b2abd2', '#d8daeb', '#f7f7f7', '#fddfb6', '#fdb863', '#e08214', '#b35806']

TITLE = 'Smallpox: when was it eliminated in each country?'
SUBTITLE = 'The decade in which smallpox\u00b9 was eliminated by country. Smallpox was declared globally eradicated in 1980.'
NOTE_LINES = [
    'Smallpox was a severe and contagious disease caused by the variola virus. Patients infected by the virus developed fever, body',
    'aches, and a distinctive rash that developed into fluid-filled blisters. The disease was known for its high mortality rate and the permanent scarring it',
    'often left on survivors. Historically, it affected people across various continents. Through a global vaccination campaign, smallpox became the first',
    'disease to be eradicated by human effort.',
]

HATCH = '#cccccc'
EDGE = '#555555'
GREY = '#858585'


def to_xy(shape):
    parts = shape if isinstance(shape, list) else [shape]
    out = []
    for name, flat in parts:
        left, top, sx, sy = CROPS[name]
        pts = np.array(flat, dtype=float).reshape(-1, 2)
        out.append(np.column_stack((left + pts[:, 0] / sx, top + pts[:, 1] / sy)))
    return np.vstack(out)


def hatch_lines(xy, spacing, slope):
    x0, y0 = xy.min(axis=0)
    x1, y1 = xy.max(axis=0)
    segs = []
    # lines rise to the right, so in y-down coords x + y / slope is constant
    c = np.floor((x0 + y0 / slope) / spacing) * spacing
    while c < x1 + y1 / slope + spacing:
        segs.append([(c - y0 / slope, y0), (c - y1 / slope, y1)])
        c += spacing
    return segs


def draw_no_data(ax, xy, edge='#bdbdbd', lw=1.4, spacing=28, slope=1.25):
    face = Polygon(xy, closed=True, facecolor='white', edgecolor='none', zorder=2)
    ax.add_patch(face)
    lines = LineCollection(hatch_lines(xy, spacing, slope), colors=HATCH, linewidths=2.3, zorder=2.1)
    ax.add_collection(lines, autolim=False)
    lines.set_clip_path(face)
    ax.add_patch(Polygon(xy, closed=True, facecolor='none', edgecolor=edge, linewidth=lw, zorder=2.2))


def run_text(ax, x, y, pieces, size, color):
    # regular and bold text on one line
    rend = ax.figure.canvas.get_renderer()
    for txt, weight in pieces:
        t = ax.text(x, y, txt, fontsize=size, color=color, family='Lato', weight=weight, va='baseline', ha='left')
        x = t.get_window_extent(rend).x1
    return x


fig = plt.figure(figsize=(34, 27.65), dpi=100)
ax = fig.add_axes([0, 0, 1, 1])
ax.set_xlim(0, 3400)
ax.set_ylim(2765, 0)
ax.axis('off')

# map
for group, color in zip(decade_groups, group_colors):
    for shape in group:
        ax.add_patch(Polygon(to_xy(shape), closed=True, facecolor=color, edgecolor=EDGE, linewidth=1.3,
                             joinstyle='round', zorder=3))
ax.add_patch(Polygon(to_xy(maracaibo), closed=True, facecolor='white', edgecolor=EDGE, linewidth=1.3, zorder=3.1))
for shape in no_data:
    draw_no_data(ax, to_xy(shape))

# header
ax.text(65, 161, TITLE, fontsize=76.4, family='Liberation Serif', weight='bold', color='#373737', va='baseline')
ax.text(65, 265, SUBTITLE, fontsize=42.9, family='Lato', color='#5b5b5b', va='baseline')

# logo
ax.add_patch(Rectangle((3076, 64), 259, 133, facecolor='#002147', edgecolor='none'))
ax.add_patch(Rectangle((3076, 197), 259, 11, facecolor='#ce261e', edgecolor='none'))
ax.text(3205, 123, 'Our World', fontsize=33.4, family='Lato', weight='bold', color='white', ha='center', va='baseline')
ax.text(3205, 171, 'in Data', fontsize=33.4, family='Lato', weight='bold', color='white', ha='center', va='baseline')

# legend
bar_top, bar_bottom = 2153, 2193
tip_x, bar_left, step = 415, 436, 315.4
edges = [bar_left + (731 - bar_left) * (i > 0) + step * max(i - 1, 0) for i in range(len(legend_colors) + 1)]
for i, (label, color) in enumerate(zip(legend_labels, legend_colors)):
    left, right = edges[i], edges[i + 1]
    if i == 0:
        pts = [(tip_x, (bar_top + bar_bottom) / 2), (left, bar_top), (right, bar_top), (right, bar_bottom), (left, bar_bottom)]
        ax.add_patch(Polygon(pts, closed=True, facecolor=color, edgecolor=EDGE, linewidth=1.0))
        center = (tip_x + right) / 2
    else:
        ax.add_patch(Rectangle((left, bar_top), right - left, bar_bottom - bar_top, facecolor=color, edgecolor=EDGE, linewidth=1.0))
        center = (left + right) / 2
    ax.plot([center, center], [2141, bar_top], color='#666666', lw=1.0)
    ax.text(center, 2126, label, fontsize=38.4, family='Lato', color='#1a1a1a', ha='center', va='baseline')
box = np.array([(146, bar_top), (336, bar_top), (336, bar_bottom), (146, bar_bottom)], dtype=float)
draw_no_data(ax, box, edge='#666666', lw=1.2, spacing=27, slope=2.0)
ax.plot([241, 241], [2141, bar_top], color='#666666', lw=1.0)
ax.text(241, 2126, 'No data', fontsize=38.4, family='Lato', color='#1a1a1a', ha='center', va='baseline')

# source line
fig.canvas.draw()
run_text(ax, 65, 2323, [('Data source:', 'bold'), (' Fenner et al. (1988)', 'normal')], 37.1, GREY)
ax.text(3320, 2323, 'OurWorldinData.org/eradication-of-diseases | CC BY', fontsize=37.1, family='Lato', color=GREY, ha='right', va='baseline')
ax.plot([64, 3335], [2400, 2400], color='#e7e7e7', lw=3)

# footnote
note_y = [2511, 2571, 2630, 2689]
run_text(ax, 61, note_y[0], [('1. Smallpox', 'bold'), (': ' + NOTE_LINES[0], 'normal')], 35.4, GREY)
for y, line in zip(note_y[1:], NOTE_LINES[1:]):
    ax.text(61, y, line, fontsize=35.4, family='Lato', color=GREY, va='baseline')

# little scroll icon before the link text
ax.add_patch(Rectangle((981, 2648), 37, 45, facecolor='#f1edf6', edgecolor='#b8aec8', linewidth=1.2))
ax.add_patch(Rectangle((988, 2688), 36, 9, facecolor='#b8aec8', edgecolor='none'))
for yy, w in zip([2662, 2668, 2674, 2680], [20, 20, 20, 14]):
    ax.plot([990, 990 + w], [yy, yy], color='#8f8aa0', lw=1.2)
ax.text(1049, note_y[3], 'Read more on our page on smallpox.', fontsize=35.4, family='Lato', color=GREY, va='baseline')

fig.savefig('out.png', dpi=100, facecolor='white')
